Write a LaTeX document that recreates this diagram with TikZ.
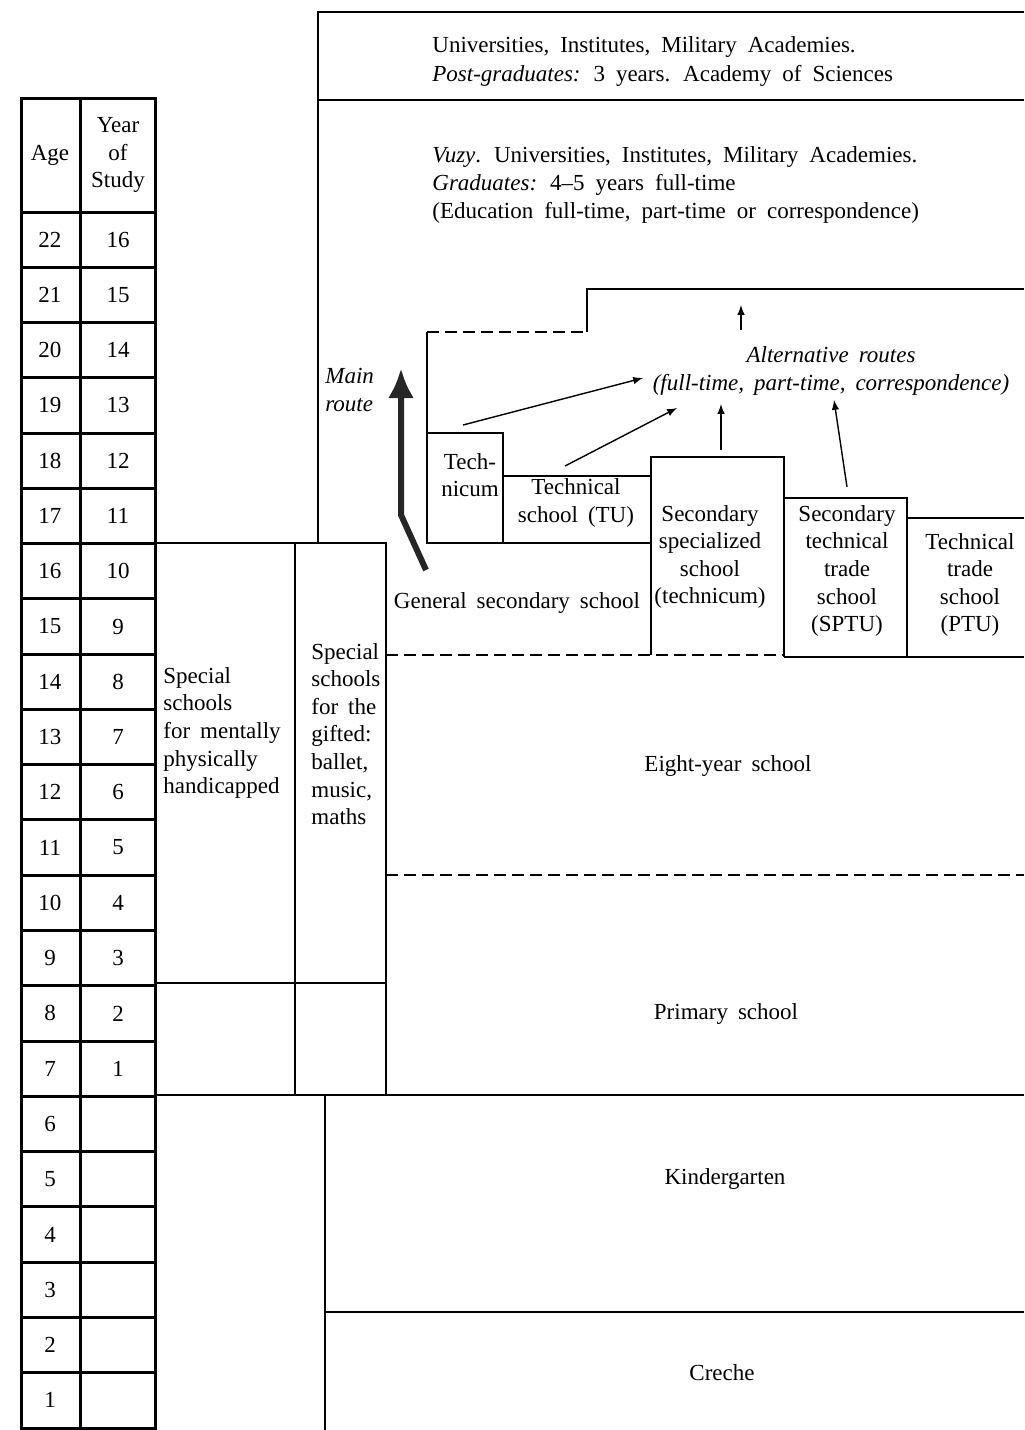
\documentclass[tikz,border=0pt]{standalone}
\usepackage{fontspec}
\setmainfont{Liberation Serif}
\usepackage{tikz}
\usetikzlibrary{calc}
\usetikzlibrary{arrows.meta}
\newcommand\diagfont{\fontsize{11.5}{13.8}\selectfont\spaceskip=5pt plus 1pt minus 1pt\relax}
\newcommand\topfont{\fontsize{11.5}{14.5}\selectfont\spaceskip=5.5pt plus 1pt minus 1pt\relax}
\newcommand\vuzyfont{\fontsize{11.5}{13.8}\selectfont\spaceskip=5.5pt plus 1pt minus 1pt\relax}

\begin{document}
\begin{tikzpicture}[>=latex, x=0.5pt, y=-0.5pt,
  every node/.style={font=\diagfont, inner sep=0pt},
  frame/.style={line width=1pt},
  grid/.style={line width=1.5pt},
  dashline/.style={line width=1pt, dash pattern=on 6pt off 3pt},
  alt/.style={->, line width=0.7pt},
  txt/.style={align=center},
  ltxt/.style={align=left, anchor=west}]
\useasboundingbox (0,0) rectangle (1024,1430);

\draw[grid] (21,98) rectangle (155,1428);
\draw[grid] (80,98) -- (80,1428);
\node[name=age] at (50,155) {Age};
\node[name=year, txt] at (118,155) {Year\\of\\Study};
\foreach \a in {1,...,22}{
  \pgfmathsetmacro\yt{212+(22-\a)*55.27}
  \draw[grid] (21,\yt) -- (155,\yt);
  \node[name=age\a] at (50,\yt+27.6) {\a};
  \ifnum\a>6 \node[name=year\a] at (118,\yt+27.6) {\the\numexpr\a-6\relax}; \fi
}

\draw[frame] (1024,12) -- (318,12) -- (318,543);
\draw[frame] (318,100) -- (1024,100);
\node[name=postgrad, ltxt, font=\topfont] at (432,61) {Universities, Institutes, Military Academies.\\\textit{Post-graduates:} 3 years. Academy of Sciences};
\node[name=vuzy, ltxt, font=\vuzyfont] at (432,185) {\textit{Vuzy}. Universities, Institutes, Military Academies.\\\textit{Graduates:} 4--5 years full-time\\(Education full-time, part-time or correspondence)};

\draw[frame] (155,543) rectangle (295,1095);
\draw[frame] (295,543) rectangle (386,1095);
\draw[frame] (155,983) -- (386,983);
\draw[frame] (155,1095) -- (1024,1095);
\draw[frame] (325,1095) -- (325,1430);
\draw[frame] (325,1312) -- (1024,1312);
\draw[dashline] (386,655) -- (784,655);
\draw[frame] (784,657) -- (1024,657);
\draw[dashline] (386,875) -- (1024,875);

\draw[frame] (427,433) rectangle (503,543);
\draw[frame] (503,476) rectangle (651,543);
\draw[frame] (651,655) -- (651,457) -- (784,457) -- (784,657);
\draw[frame] (784,498) -- (907,498) -- (907,657);
\draw[frame] (907,518) -- (1024,518);
\draw[frame] (427,433) -- (427,332);
\draw[dashline] (427,332) -- (587,332);
\draw[frame] (587,332) -- (587,289) -- (1024,289);

\node[name=tcm, txt] at (470,475) {Tech-\\nicum};
\node[name=tu, txt] at (576,503) {Technical\\school (TU)};
\node[name=sss, txt] at (710,557) {Secondary\\specialized\\school\\(technicum)};
\node[name=sptu, txt] at (847,571) {Secondary\\technical\\trade\\school\\(SPTU)};
\node[name=ptu, txt] at (970,585) {Technical\\trade\\school\\(PTU)};
\node[name=gensec] at (517,603) {General secondary school};
\node[name=handicap, ltxt] at (163,733) {Special\\schools\\for mentally\\physically\\handicapped};
\node[name=gifted, ltxt] at (311,734) {Special\\schools\\for the\\gifted:\\ballet,\\music,\\maths};
\node[name=eightyr] at (728,766) {Eight-year school};
\node[name=primary] at (726,1014) {Primary school};
\node[name=kinder] at (725,1179) {Kindergarten};
\node[name=creche] at (722,1373) {Creche};
\node[name=mainroute, ltxt, font=\diagfont\itshape] at (325,390) {Main\\route};
\node[name=altroutes, txt, font=\diagfont\itshape] at (831,371) {Alternative routes\\(full-time, part-time, correspondence)};

\coordinate (tcm_out) at (463,425);
\coordinate (tu_out) at (565,466);
\coordinate (sss_out) at (721,450);
\coordinate (sptu_out) at (847,487);
\coordinate (alt_in1) at (643,378);
\coordinate (alt_in2) at (677,408);
\coordinate (alt_in3) at (721,404);
\coordinate (alt_in4) at (834,400);
\coordinate (alt_up) at (741,330);
\coordinate (vuzy_in) at (741,305);
\coordinate (mr_start) at (426,570);
\coordinate (mr_bend) at (401,515);
\coordinate (mr_end) at (401,368);

\draw[alt] (tcm_out) -- (alt_in1);
\draw[alt] (tu_out) -- (alt_in2);
\draw[alt] (sss_out) -- (alt_in3);
\draw[alt] (sptu_out) -- (alt_in4);
\draw[alt] (alt_up) -- (vuzy_in);
\draw[line width=3pt, color=black!85, -{Latex[length=15pt,width=13pt]}] (mr_start) -- (mr_bend) -- (mr_end);

\end{tikzpicture}
\end{document}
